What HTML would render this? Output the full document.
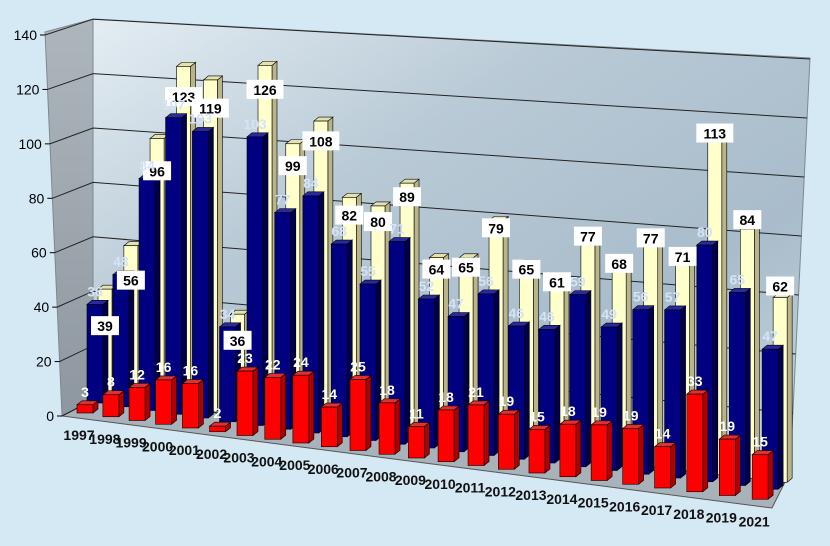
<!DOCTYPE html>
<html><head><meta charset="utf-8"><style>
html,body{margin:0;padding:0;background:#d5e9f5;}
svg{display:block;font-family:"Liberation Sans",Arial,sans-serif;}
</style></head><body>
<svg id="chart" width="830" height="546" viewBox="0 0 830 546" xmlns="http://www.w3.org/2000/svg">
<defs>
<linearGradient id="wallGrad" x1="0" y1="0" x2="1" y2="1">
<stop offset="0" stop-color="#e4edf3"/><stop offset="0.35" stop-color="#b9cad6"/><stop offset="0.7" stop-color="#a9bccb"/><stop offset="1" stop-color="#c9d7e1"/>
</linearGradient>
<linearGradient id="sideGrad" x1="0" y1="0" x2="0" y2="1">
<stop offset="0" stop-color="#aeb6bd"/><stop offset="1" stop-color="#8e979f"/>
</linearGradient>
</defs>
<rect x="0" y="0" width="830" height="546" fill="#d5e9f5"/>
<polygon points="93,19 810,58 790,472 93,400" fill="url(#wallGrad)" stroke="#7d8890" stroke-width="1"/>
<polygon points="45,32 93,19 93,400 62,416" fill="url(#sideGrad)" stroke="#7d8890" stroke-width="1"/>
<polygon points="62,416 93,400 790,472 772,508" fill="#a7b2ba" stroke="#555" stroke-width="1"/>
<g id="grid"></g>
<g id="bars"></g>
<g id="labels"></g>
<g id="axes"></g>
</svg>
<script>
const categories = ["1997","1998","1999","2000","2001","2002","2003","2004","2005","2006","2007","2008","2009","2010","2011","2012","2013","2014","2015","2016","2017","2018","2019","2021"];
const redValues = [3,8,12,16,16,2,23,22,24,14,25,18,11,18,21,19,15,18,19,19,14,33,19,15];
const blueValues = [36,48,84,107,103,34,103,77,84,68,55,71,52,47,56,46,46,59,49,56,57,80,65,47];
const creamValues = [39,56,96,123,119,36,126,99,108,82,80,89,64,65,79,65,61,77,68,77,71,113,84,62];
const yTicks = [0,20,40,60,80,100,120,140];

const NS="http://www.w3.org/2000/svg";
const n = categories.length;
function mk(tag, attrs, parent){const e=document.createElementNS(NS,tag);for(const k in attrs)e.setAttribute(k,attrs[k]);parent.appendChild(e);return e;}
function catX(i){const t=i*23/(n-1);return 85+25.72*t+0.158*t*t;}
function baseY(i){return 413+3.75*i*23/(n-1);}
function scaleK(i){return 2.74+0.24*i/(n-1);}

const grid=document.getElementById('grid');
const axes=document.getElementById('axes');
yTicks.forEach(v=>{
  const f=v/140;
  const lx=93, ly=400-v*2.72;
  const rx=790+20*f, ry=472-v*2.95;
  const ax=62-17*f, ay=416-v*2.7214;
  const g=mk('polyline',{points:`${ax},${ay} ${lx},${ly} ${rx},${ry}`,fill:'none',stroke:'#222','stroke-width':1},grid);
  
  
  const t=mk('text',{x:ax-8,y:ay+5,'text-anchor':'end','font-size':14,fill:'#000'},axes);
  t.textContent=v;
  
  
  const tk=mk('line',{x1:ax-5,y1:ay,x2:ax,y2:ay,stroke:'#000'},axes);
  
  
});

const series=[
 {name:'cream',vals:creamValues,dx:20,dy:-17,w:14,front:'#ffffcc',side:'#b9b489',top:'#e6e2b0'},
 {name:'blue',vals:blueValues,dx:10,dy:-10,w:16,front:'#000080',side:'#00004a',top:'#2a2aa0'},
 {name:'red',vals:redValues,dx:0,dy:0,w:16,front:'#ff0000',side:'#b00000',top:'#e03030'}
];
const bars=document.getElementById('bars');
const labels=document.getElementById('labels');
const D=5, H=4;
series.forEach(s=>{
  s.vals.forEach((v,i)=>{
    const cx=catX(i)+s.dx, by=baseY(i)+s.dy, h=v*scaleK(i);
    const x0=cx-s.w/2, x1=cx+s.w/2, ty=by-h;
    const g=mk('g',{},bars);
    
    
    mk('polygon',{points:`${x1},${ty} ${x1+D},${ty-H} ${x1+D},${by-H} ${x1},${by}`,fill:s.side,stroke:'#000','stroke-width':0.6},g);
    mk('polygon',{points:`${x0},${ty} ${x0+D},${ty-H} ${x1+D},${ty-H} ${x1},${ty}`,fill:s.top,stroke:'#000','stroke-width':0.6},g);
    mk('rect',{x:x0,y:ty,width:s.w,height:h,fill:s.front,stroke:'#000','stroke-width':0.6},g);
  });
});
series.forEach(s=>{
  s.vals.forEach((v,i)=>{
    const cx=catX(i)+s.dx, by=baseY(i)+s.dy, h=v*scaleK(i), ty=by-h;
    if(s.name==='cream'){
      const off=40-48*i/(n-1);
      const ly=ty+off;
      const w=String(v).length*9+10;
      const r=mk('rect',{x:cx-w/2,y:ly-13,width:w,height:19,fill:'#fff'},labels);
      
      
      const t=mk('text',{x:cx,y:ly+2,'text-anchor':'middle','font-size':14,'font-weight':'bold',fill:'#000'},labels);
      t.textContent=v;
      
      
    } else {
      const t=mk('text',{x:cx,y:ty-8,'text-anchor':'middle','font-size':14,'font-weight':'bold',fill:s.name==='blue'?'#d6e2f8':'#ffffff'},labels);
      t.textContent=v;
      
      
    }
  });
});
categories.forEach((c,i)=>{
  const cx=catX(i), by=baseY(i);
  const t=mk('text',{x:cx-6,y:by+27,'text-anchor':'middle','font-size':14,'font-weight':'bold',fill:'#111'},axes);
  t.textContent=c;
  
  
});
</script>
</body></html>
